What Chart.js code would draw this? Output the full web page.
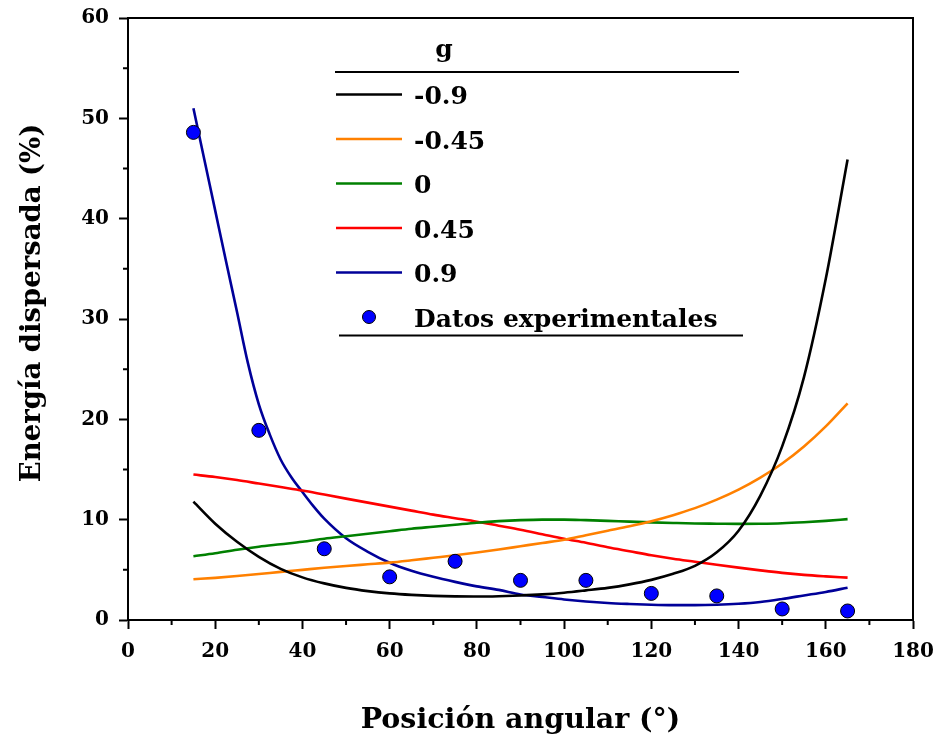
<!DOCTYPE html>
<html>
<head>
<meta charset="utf-8">
<script src="https://cdn.jsdelivr.net/npm/chart.js@4/dist/chart.umd.min.js"></script>
<style>
html,body{margin:0;padding:0;background:#fff;}
#wrap{width:939px;height:734px;position:relative;}
</style>
</head>
<body>
<div id="wrap"><canvas id="c"></canvas></div>
<script>
// ---- data ----
const angles = [15,20,25,30,35,40,45,50,55,60,65,70,75,80,85,90,95,100,105,110,115,120,125,130,135,140,145,150,155,160,165];
const gNeg09 = [11.8,9.6,7.8,6.3,5.1,4.25,3.65,3.2,2.88,2.65,2.5,2.4,2.35,2.34,2.37,2.44,2.55,2.72,2.95,3.2,3.55,4.0,4.6,5.4,6.75,8.9,12.4,17.3,24.2,34.0,45.9];
const gNeg045 = [4.06,4.2,4.38,4.58,4.8,5.0,5.2,5.38,5.55,5.72,5.95,6.2,6.45,6.72,7.02,7.35,7.68,8.0,8.45,8.9,9.35,9.85,10.45,11.15,12.0,13.0,14.2,15.6,17.3,19.3,21.6];
const gZero = [6.35,6.65,7.0,7.3,7.55,7.8,8.1,8.35,8.6,8.85,9.1,9.3,9.5,9.7,9.85,9.95,10.0,10.0,9.95,9.88,9.8,9.73,9.67,9.62,9.6,9.58,9.6,9.65,9.75,9.88,10.05];
const gPos045 = [14.5,14.25,13.95,13.6,13.25,12.9,12.5,12.1,11.7,11.3,10.9,10.5,10.15,9.8,9.4,9.0,8.55,8.1,7.7,7.25,6.85,6.45,6.1,5.8,5.5,5.22,4.95,4.7,4.5,4.35,4.22];
const anglesG09 = [15,17.5,20,22.5,25,27.5,30,32.5,35,37.5,40,42.5,45,50,55,60,65,70,75,80,85,90,95,100,105,110,115,120,125,130,135,140,145,150,155,160,165];
const gPos09 = [51.0,45.9,40.8,35.7,30.7,25.6,21.5,18.5,16.0,14.2,12.75,11.35,10.1,8.15,6.8,5.7,4.9,4.3,3.8,3.35,3.0,2.55,2.3,2.05,1.85,1.7,1.6,1.52,1.48,1.48,1.52,1.62,1.8,2.1,2.45,2.8,3.22];
const expAngles = [15,30,45,60,75,90,105,120,135,150,165];
const expEnergy = [48.6,18.9,7.1,4.3,5.85,3.95,3.95,2.65,2.4,1.1,0.9];
const seriesLabels = ['-0.9','-0.45','0','0.45','0.9'];
const expLabel = 'Datos experimentales';
const legendTitle = 'g';
const xTitle = 'Posición angular (°)';
const yTitle = 'Energía dispersada (%)';

// ---- styles ----
const seriesColors = ['#000000','#FF8000','#008000','#FF0000','#000099'];
const FONT = '"DejaVu Serif", "Liberation Serif", serif';

const curves = [[angles, gNeg09], [angles, gNeg045], [angles, gZero], [angles, gPos045], [anglesG09, gPos09]];
const datasets = curves.map(([xs, vals], i) => ({
  type: 'line',
  label: seriesLabels[i],
  data: xs.map((a, k) => ({x: a, y: vals[k]})),
  borderColor: seriesColors[i],
  borderWidth: 2.6,
  pointRadius: 0,
  fill: false,
  cubicInterpolationMode: 'monotone',
  order: 1
}));
datasets.push({
  type: 'scatter',
  label: expLabel,
  data: expAngles.map((a, k) => ({x: a, y: expEnergy[k]})),
  pointRadius: 7,
  pointBackgroundColor: '#0000FF',
  pointBorderColor: '#000000',
  pointBorderWidth: 1,
  showLine: false,
  order: 0
});

const decorPlugin = {
  id: 'decor',
  afterDraw(chart) {
    const {ctx, chartArea: a, scales: {x, y}} = chart;
    ctx.save();
    ctx.strokeStyle = '#000';
    ctx.lineWidth = 2;
    ctx.beginPath();
    ctx.moveTo(a.left - 1, a.top);
    ctx.lineTo(a.right, a.top);
    ctx.lineTo(a.right, a.bottom + 1);
    // minor ticks
    for (let v = 10; v < 180; v += 20) {
      const px = x.getPixelForValue(v);
      ctx.moveTo(px, a.bottom); ctx.lineTo(px, a.bottom + 5);
    }
    for (let v = 5; v < 60; v += 10) {
      const py = y.getPixelForValue(v);
      ctx.moveTo(a.left, py); ctx.lineTo(a.left - 5, py);
    }
    ctx.stroke();

    // axis titles
    ctx.fillStyle = '#000';
    ctx.textAlign = 'center';
    ctx.textBaseline = 'alphabetic';
    ctx.font = 'bold 28.5px ' + FONT;
    ctx.fillText(xTitle, (a.left + a.right) / 2, 728);
    ctx.save();
    ctx.font = 'bold 27.5px ' + FONT;
    ctx.translate(40, 303);
    ctx.rotate(-Math.PI / 2);
    ctx.fillText(yTitle, 0, 0);
    ctx.restore();

    // legend
    const lx0 = 336, lx1 = 402, tx = 414;
    ctx.font = 'bold 25px ' + FONT;
    ctx.textAlign = 'center';
    ctx.fillText(legendTitle, 444, 57);
    ctx.beginPath();
    ctx.moveTo(335, 72); ctx.lineTo(739, 72);
    ctx.moveTo(339, 335.5); ctx.lineTo(743, 335.5);
    ctx.lineWidth = 2.2;
    ctx.stroke();
    ctx.textAlign = 'left';
    const rowY = [94.5, 139, 183.5, 228, 272.5, 317];
    chart.data.datasets.forEach((ds, i) => {
      const yy = rowY[i];
      if (ds.type === 'line') {
        ctx.strokeStyle = ds.borderColor;
        ctx.lineWidth = 2.6;
        ctx.beginPath();
        ctx.moveTo(lx0, yy); ctx.lineTo(lx1, yy);
        ctx.stroke();
      } else {
        ctx.beginPath();
        ctx.arc(369, yy, 6.5, 0, Math.PI * 2);
        ctx.fillStyle = ds.pointBackgroundColor;
        ctx.fill();
        ctx.lineWidth = 1;
        ctx.strokeStyle = '#000';
        ctx.stroke();
      }
      ctx.fillStyle = '#000';
      ctx.fillText(ds.label, tx, yy + 9.5);
    });
    ctx.restore();
  }
};

new Chart(document.getElementById('c'), {
  data: {datasets},
  options: {
    responsive: true,
    maintainAspectRatio: false,
    animation: false,
    devicePixelRatio: 1,
    layout: {padding: {top: 18, right: 26, left: 0, bottom: 0}},
    plugins: {legend: {display: false}, tooltip: {enabled: false}},
    scales: {
      x: {
        type: 'linear', min: 0, max: 180,
        afterFit(s) { s.height = 114; s.paddingLeft = 0; s.paddingRight = 0; s.paddingTop = 0; s.paddingBottom = 0; },
        border: {display: true, color: '#000', width: 2},
        grid: {drawOnChartArea: false, drawTicks: true, tickLength: 9, tickWidth: 2, tickColor: '#000'},
        ticks: {stepSize: 20, color: '#000', padding: 11, font: {family: FONT, weight: 'bold', size: 20}}
      },
      y: {
        type: 'linear', min: 0, max: 60,
        afterFit(s) { s.width = 128; s.paddingLeft = 0; s.paddingRight = 0; s.paddingTop = 0; s.paddingBottom = 0; },
        border: {display: true, color: '#000', width: 2},
        grid: {drawOnChartArea: false, drawTicks: true, tickLength: 9, tickWidth: 2, tickColor: '#000'},
        ticks: {stepSize: 10, color: '#000', padding: 10, font: {family: FONT, weight: 'bold', size: 20}}
      }
    }
  },
  plugins: [decorPlugin]
});
</script>
</body>
</html>
